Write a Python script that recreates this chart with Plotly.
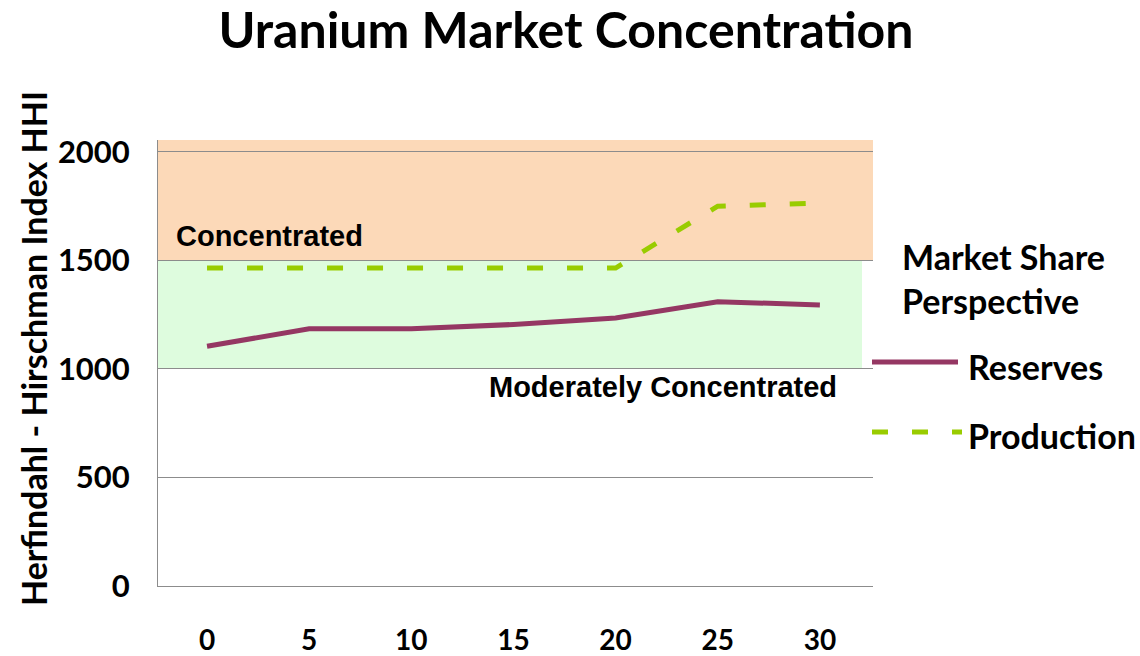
import plotly.graph_objects as go

years = [0, 5, 10, 15, 20, 25, 30]
reserves = [1105, 1185, 1185, 1205, 1235, 1310, 1295]
production = [1465, 1465, 1465, 1465, 1465, 1750, 1765]
y_ticks = [0, 500, 1000, 1500, 2000]
x_ticks = [0, 5, 10, 15, 20, 25, 30]
band_moderate = [1000, 1500]
band_concentrated = [1500, 2055]

CAL = "Lato, 'Open Sans', sans-serif"
ARI = "'Liberation Sans', Arial, sans-serif"
RES_COLOR = "#953763"
PROD_COLOR = "#99CC00"
DASH = "16px,24px"

W, H = 1140, 656
L, R, T, B = 158, 267, 140, 70
PW, PH = W - L - R, H - T - B


def X(px):
    return (px - L) / PW


def Y(py):
    return (H - B - py) / PH


fig = go.Figure()
fig.add_trace(go.Scatter(x=years, y=reserves, mode="lines", name="Reserves",
                         line=dict(color=RES_COLOR, width=5), showlegend=False))
fig.add_trace(go.Scatter(x=years, y=production, mode="lines", name="Production",
                         line=dict(color=PROD_COLOR, width=5, dash=DASH), showlegend=False))

fig.add_shape(type="rect", xref="paper", yref="y", x0=0, x1=1.0,
              y0=band_concentrated[0], y1=band_concentrated[1],
              fillcolor="#FCD9B8", line_width=0, layer="below")
fig.add_shape(type="rect", xref="paper", yref="y", x0=0, x1=X(862),
              y0=band_moderate[0], y1=band_moderate[1],
              fillcolor="#DEFCDE", line_width=0, layer="below")

fig.add_annotation(text="<b>Concentrated</b>", x=X(174), y=Y(236), xref="paper", yref="paper",
                   xanchor="left", yanchor="middle", showarrow=False,
                   font=dict(family=ARI, size=29, color="black"))
fig.add_annotation(text="<b>Moderately Concentrated</b>", x=X(487), y=Y(387), xref="paper", yref="paper",
                   xanchor="left", yanchor="middle", showarrow=False,
                   font=dict(family=ARI, size=29, color="black"))

# y-axis title
fig.add_annotation(text="<b>Herfindahl - Hirschman Index HHI</b>", x=X(33), y=Y(349),
                   xref="paper", yref="paper", showarrow=False, textangle=-90,
                   xanchor="center", yanchor="middle",
                   font=dict(family=CAL, size=34, color="black"))

# legend
fig.add_annotation(text="<b>Market Share<br>Perspective</b>", x=X(900), y=Y(278), xref="paper",
                   yref="paper", showarrow=False, xanchor="left", yanchor="middle", align="left",
                   font=dict(family=CAL, size=34, color="black"))
fig.add_annotation(text="<b>Reserves</b>", x=X(966), y=Y(366), xref="paper", yref="paper",
                   showarrow=False, xanchor="left", yanchor="middle",
                   font=dict(family=CAL, size=34, color="black"))
fig.add_annotation(text="<b>Production</b>", x=X(966), y=Y(435), xref="paper", yref="paper",
                   showarrow=False, xanchor="left", yanchor="middle",
                   font=dict(family=CAL, size=34, color="black"))
fig.add_shape(type="line", xref="paper", yref="paper", x0=X(872), x1=X(958),
              y0=Y(362), y1=Y(362), line=dict(color=RES_COLOR, width=5))
fig.add_shape(type="line", xref="paper", yref="paper", x0=X(872), x1=X(962),
              y0=Y(432), y1=Y(432), line=dict(color=PROD_COLOR, width=5, dash=DASH))

fig.update_layout(
    width=W, height=H,
    margin=dict(l=L, r=R, t=T, b=B),
    plot_bgcolor="white", paper_bgcolor="white",
    title=dict(text="<b>Uranium Market Concentration</b>", x=566 / W, xanchor="center",
               y=1 - 30 / H, yanchor="middle",
               font=dict(family=CAL, size=50, color="black")),
    xaxis=dict(range=[-2.4, 32.6], tickmode="array", tickvals=x_ticks,
               ticktext=[f"<b>{v}</b>" for v in x_ticks], showgrid=False,
               zeroline=False, showline=True, linecolor="#8c8c8c", linewidth=1,
               ticks="", ticklabelstandoff=29, automargin=False,
               tickfont=dict(family=CAL, size=28, color="black")),
    yaxis=dict(range=[0, 2055], tickmode="array", tickvals=y_ticks,
               ticktext=[f"<b>{v}</b>" for v in y_ticks], showgrid=True,
               gridcolor="#8c8c8c", gridwidth=1, zeroline=False, showline=True,
               linecolor="#8c8c8c", linewidth=1, ticks="", ticklabelstandoff=21,
               automargin=False,
               tickfont=dict(family=CAL, size=31, color="black")),
)

fig.write_html("out.html", config={"displayModeBar": False},
               post_script="document.body.style.margin='0';document.body.style.overflow='hidden';")
